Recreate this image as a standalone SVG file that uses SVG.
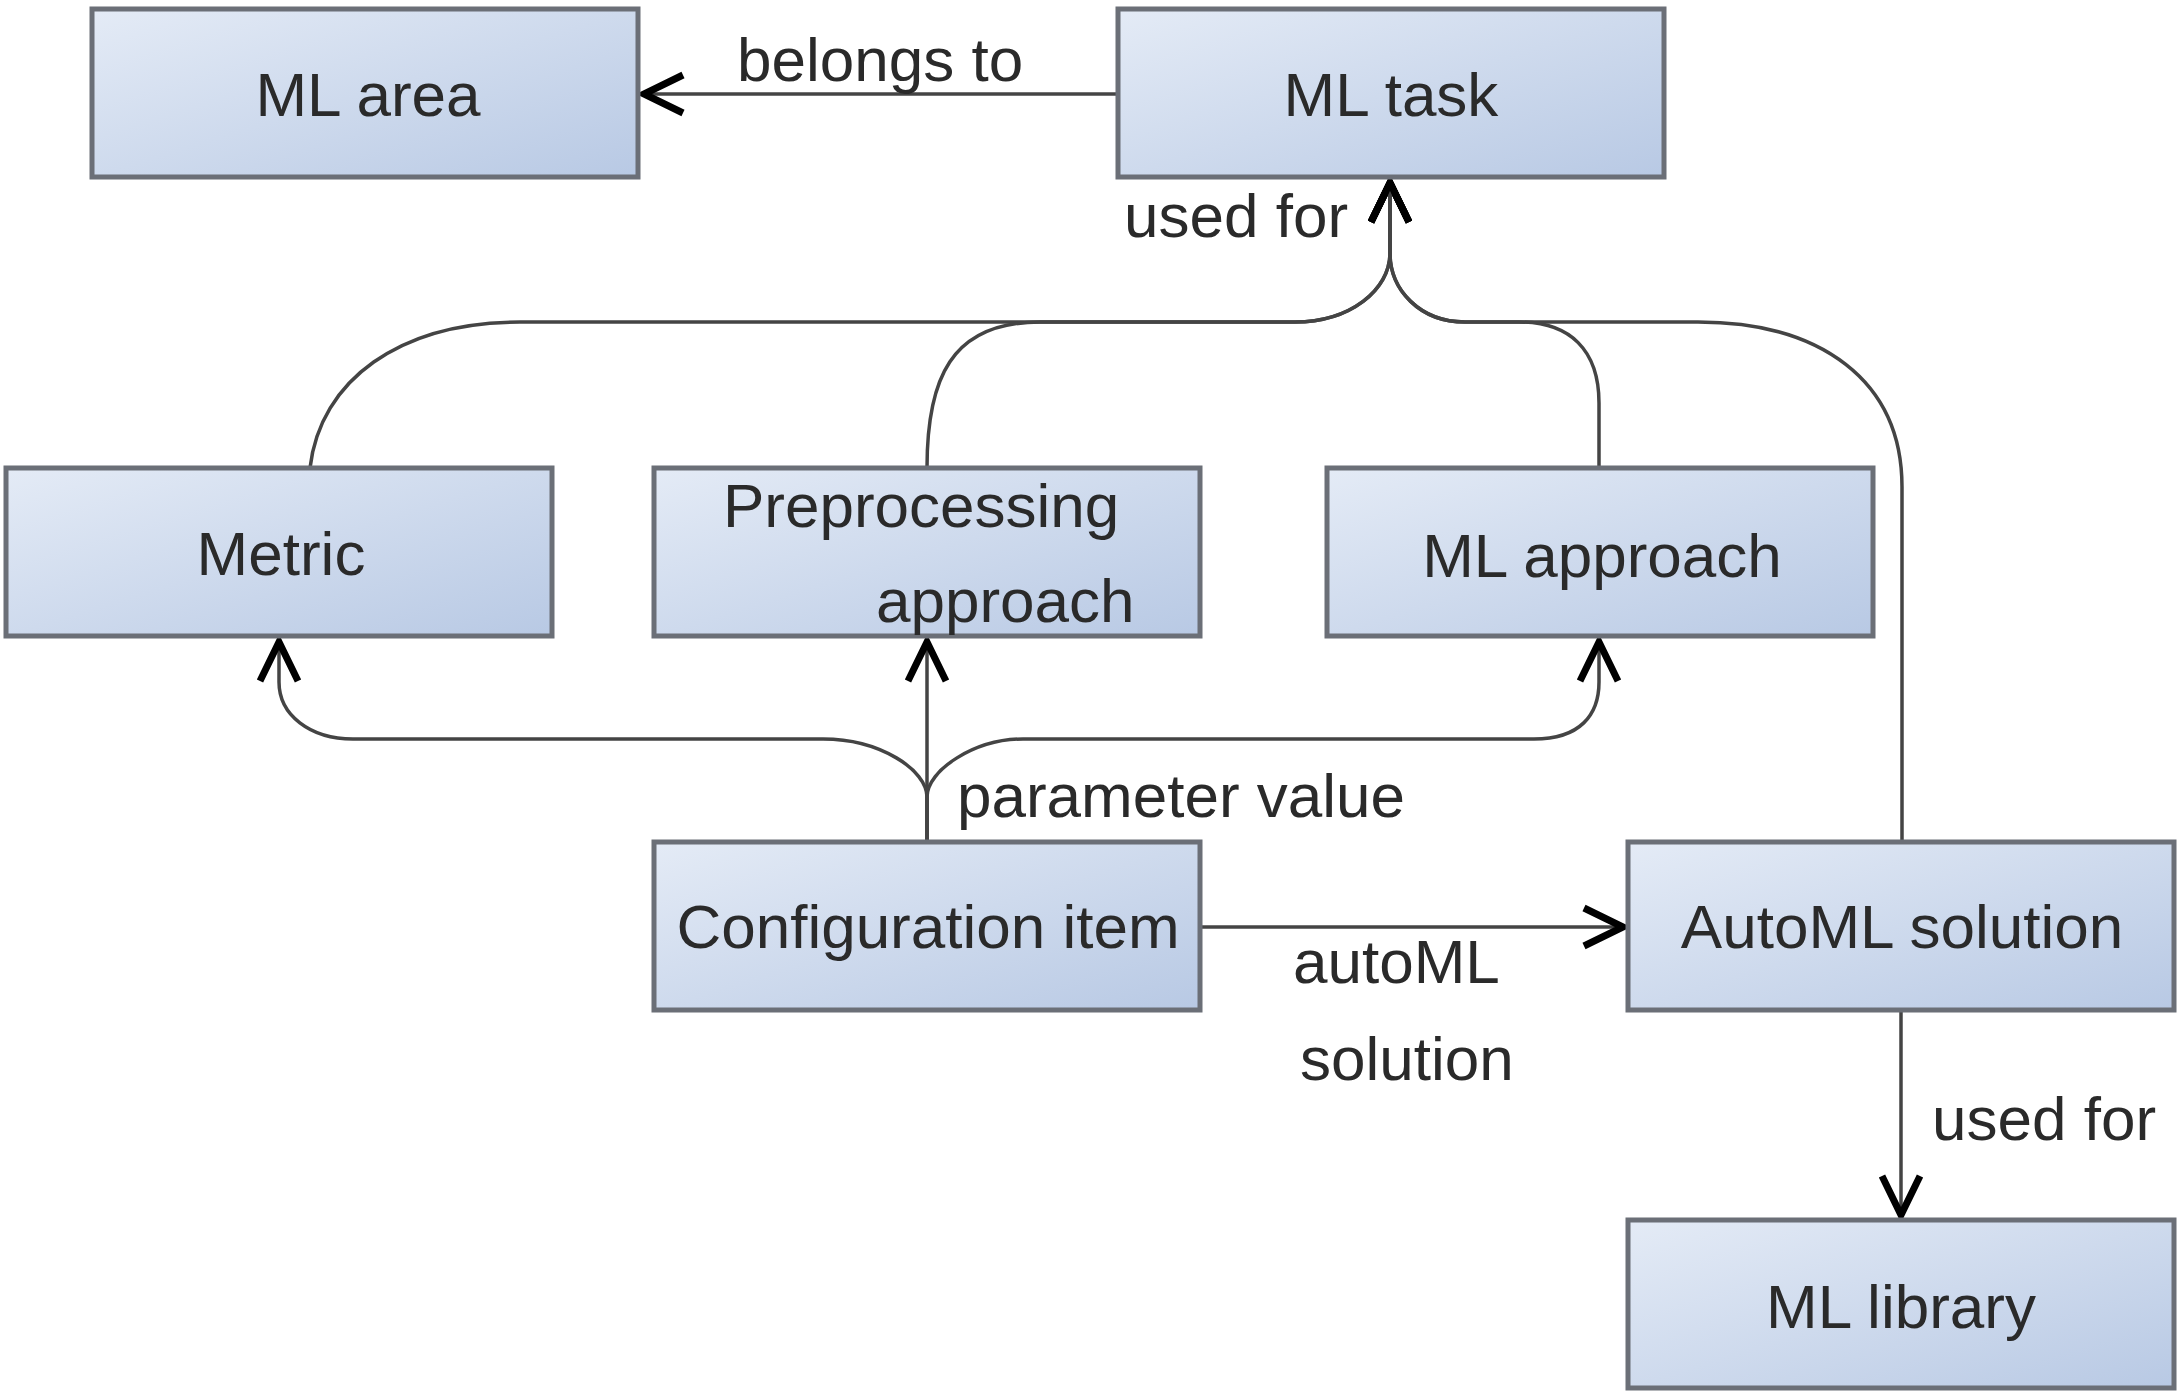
<svg xmlns="http://www.w3.org/2000/svg" width="2181" height="1392" viewBox="0 0 2181 1392">
  <defs>
    <linearGradient id="fill" x1="0" y1="0" x2="1" y2="1">
      <stop offset="0" stop-color="#e4ebf6"/>
      <stop offset="1" stop-color="#b8c9e4"/>
    </linearGradient>
    <marker id="arr" markerUnits="userSpaceOnUse" markerWidth="70" markerHeight="70" viewBox="-55 -35 70 70" refX="0" refY="0" orient="auto">
      <path d="M -42 -19 L -3 0 L -42 19" fill="none" stroke="#000" stroke-width="7" stroke-linejoin="miter" stroke-miterlimit="10"/>
    </marker>
    <style>
      .box { fill: url(#fill); stroke: #6b6f77; stroke-width: 5; }
      .lbl { font-family: "Liberation Sans", Arial, sans-serif; font-size: 62px; fill: #2a2a2a; }
      .c { text-anchor: middle; }
      .edge { fill: none; stroke: #444; stroke-width: 3.5; }
    </style>
  </defs>

  <g id="connectors">
    <path class="edge" d="M 1118 94 L 641 94" marker-end="url(#arr)"/>
    <path class="edge" d="M 310 468 C 320 380, 400 322, 520 322 L 1295 322 C 1350 322, 1390 290, 1390 253 L 1390 180" marker-end="url(#arr)"/>
    <path class="edge" d="M 927 468 C 927 380, 950 322, 1040 322 L 1295 322 C 1350 322, 1390 290, 1390 253 L 1390 180" marker-end="url(#arr)"/>
    <path class="edge" d="M 1599 468 L 1599 403 C 1599 350, 1570 322, 1519 322 L 1465 322 C 1420 322, 1390 290, 1390 253 L 1390 180" marker-end="url(#arr)"/>
    <path class="edge" d="M 1902 842 L 1902 487 C 1902 380, 1820 322, 1698 322 L 1465 322 C 1420 322, 1390 290, 1390 253 L 1390 180" marker-end="url(#arr)"/>
    <path class="edge" d="M 927 842 L 927 639" marker-end="url(#arr)"/>
    <path class="edge" d="M 927 842 L 927 797 C 927 770, 880 739, 823 739 L 353 739 C 310 739, 279 715, 279 682 L 279 639" marker-end="url(#arr)"/>
    <path class="edge" d="M 927 842 L 927 797 C 927 770, 975 739, 1023 739 L 1534 739 C 1580 739, 1599 715, 1599 682 L 1599 639" marker-end="url(#arr)"/>
    <path class="edge" d="M 1200 927 L 1626 927" marker-end="url(#arr)"/>
    <path class="edge" d="M 1901 1012 L 1901 1218" marker-end="url(#arr)"/>
    <text class="lbl" x="737" y="81">belongs to</text>
    <text class="lbl" x="1124" y="237">used for</text>
    <text class="lbl" x="957" y="817">parameter value</text>
    <text class="lbl" x="1293" y="983">autoML</text>
    <text class="lbl" x="1300" y="1080">solution</text>
    <text class="lbl" x="1932" y="1140">used for</text>
  </g>

  <g id="ml-area">
    <rect class="box" x="92" y="9" width="546" height="168"/>
    <text class="lbl c" x="368" y="116">ML area</text>
  </g>
  <g id="ml-task">
    <rect class="box" x="1118" y="9" width="546" height="168"/>
    <text class="lbl c" x="1391" y="116">ML task</text>
  </g>
  <g id="metric">
    <rect class="box" x="6" y="468" width="546" height="168"/>
    <text class="lbl c" x="281" y="575">Metric</text>
  </g>
  <g id="preprocessing-approach">
    <rect class="box" x="654" y="468" width="546" height="168"/>
    <text class="lbl" x="723" y="527">Preprocessing</text>
    <text class="lbl" x="876" y="622">approach</text>
  </g>
  <g id="ml-approach">
    <rect class="box" x="1327" y="468" width="546" height="168"/>
    <text class="lbl c" x="1602" y="577">ML approach</text>
  </g>
  <g id="configuration-item">
    <rect class="box" x="654" y="842" width="546" height="168"/>
    <text class="lbl c" x="928" y="948">Configuration item</text>
  </g>
  <g id="automl-solution">
    <rect class="box" x="1628" y="842" width="546" height="168"/>
    <text class="lbl c" x="1902" y="948">AutoML solution</text>
  </g>
  <g id="ml-library">
    <rect class="box" x="1628" y="1220" width="546" height="168"/>
    <text class="lbl c" x="1901" y="1328">ML library</text>
  </g>
</svg>
